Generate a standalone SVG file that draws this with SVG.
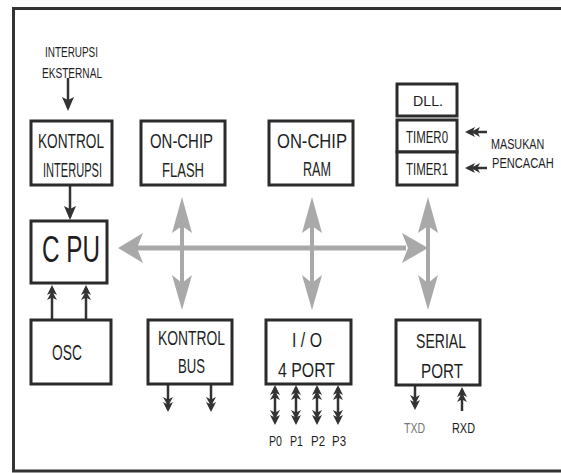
<svg xmlns="http://www.w3.org/2000/svg" width="561" height="473" viewBox="0 0 561 473">
<style>
.box{fill:#fff;stroke:#2b2b2b;stroke-width:3}
.t{font-family:"Liberation Sans","DejaVu Sans",sans-serif;fill:#1e1e1e;text-anchor:start}
.dk{stroke:#333;stroke-width:2.5;fill:none}
.gl{stroke:#a9a9a9;fill:none}
.gh{fill:#a9a9a9}
</style>
<defs>
<marker id="dh" viewBox="0 -6 15 12" refX="12" refY="0" markerWidth="15" markerHeight="12" markerUnits="userSpaceOnUse" orient="auto-start-reverse">
<path d="M15,0 L5,-5 L7.5,0 L5,5 Z M9,0 L0,-5 L2.5,0 L0,5 Z" fill="#333"/>
</marker>
<marker id="sh" viewBox="0 -6 14 12" refX="11" refY="0" markerWidth="14" markerHeight="12" markerUnits="userSpaceOnUse" orient="auto-start-reverse">
<path d="M14,0 L0,-6 L3,0 L0,6 Z" fill="#333"/>
</marker>
</defs>
<rect width="561" height="473" fill="#fff"/>
<path d="M580,8.5 L13.5,8.5 L13.5,471 L580,471" fill="none" stroke="#333" stroke-width="3"/>

<g id="connectors">
<g id="bus">
<line class="gl" x1="136" y1="248" x2="406" y2="248" stroke-width="5"/>
<line class="gl" x1="182" y1="226" x2="182" y2="284" stroke-width="4"/>
<line class="gl" x1="312" y1="226" x2="312" y2="284" stroke-width="4"/>
<line class="gl" x1="428" y1="226" x2="428" y2="284" stroke-width="4"/>
<path class="gh" d="M118,248 L143,233 L137,248 L143,263 Z"/>
<path class="gh" d="M428,248 L402,233 L408,248 L402,263 Z"/>
<path class="gh" d="M182,197 L192,233 L182,226 L172,233 Z"/>
<path class="gh" d="M182,310 L192,275 L182,283 L172,275 Z"/>
<path class="gh" d="M312,197 L322,233 L312,226 L302,233 Z"/>
<path class="gh" d="M312,310 L322,275 L312,283 L302,275 Z"/>
<path class="gh" d="M428,197 L438,233 L428,226 L418,233 Z"/>
<path class="gh" d="M428,310 L438,275 L428,283 L418,275 Z"/>
</g>
<line class="dk" x1="68" y1="78" x2="68" y2="108" marker-end="url(#sh)"/>
<line class="dk" x1="70" y1="186" x2="70" y2="217" marker-end="url(#sh)"/>
<line class="dk" x1="52" y1="319" x2="52" y2="288" marker-end="url(#dh)"/>
<line class="dk" x1="86" y1="319" x2="86" y2="288" marker-end="url(#dh)"/>
<line class="dk" x1="168" y1="385" x2="168" y2="409" marker-end="url(#dh)"/>
<line class="dk" x1="211" y1="385" x2="211" y2="409" marker-end="url(#dh)"/>
<line class="dk" x1="275" y1="388" x2="275" y2="422" marker-start="url(#dh)" marker-end="url(#dh)"/>
<line class="dk" x1="296" y1="388" x2="296" y2="422" marker-start="url(#dh)" marker-end="url(#dh)"/>
<line class="dk" x1="317" y1="388" x2="317" y2="422" marker-start="url(#dh)" marker-end="url(#dh)"/>
<line class="dk" x1="338" y1="388" x2="338" y2="422" marker-start="url(#dh)" marker-end="url(#dh)"/>
<line class="dk" x1="415" y1="386" x2="415" y2="407" marker-end="url(#dh)"/>
<line class="dk" x1="462" y1="411" x2="462" y2="390" marker-end="url(#dh)"/>
<line class="dk" x1="487" y1="132" x2="468" y2="132" marker-end="url(#dh)"/>
<line class="dk" x1="487" y1="168" x2="468" y2="168" marker-end="url(#dh)"/>
</g>

<g id="interupsi-eksternal">
<text class="t" x="45" y="57" font-size="15" textLength="53" lengthAdjust="spacingAndGlyphs">INTERUPSI</text>
<text class="t" x="42" y="78" font-size="15" textLength="60" lengthAdjust="spacingAndGlyphs">EKSTERNAL</text>
</g>

<g id="kontrol-interupsi">
<rect class="box" x="31" y="121" width="81" height="64"/>
<text class="t" x="38" y="148" font-size="21" textLength="66" lengthAdjust="spacingAndGlyphs">KONTROL</text>
<text class="t" x="43" y="177" font-size="21" textLength="59" lengthAdjust="spacingAndGlyphs">INTERUPSI</text>
</g>

<g id="onchip-flash">
<rect class="box" x="141" y="121" width="84" height="64"/>
<text class="t" x="150" y="148" font-size="21" textLength="63" lengthAdjust="spacingAndGlyphs">ON-CHIP</text>
<text class="t" x="162" y="177" font-size="21" textLength="42" lengthAdjust="spacingAndGlyphs">FLASH</text>
</g>

<g id="onchip-ram">
<rect class="box" x="269" y="121" width="84" height="64"/>
<text class="t" x="277" y="148" font-size="21" textLength="70" lengthAdjust="spacingAndGlyphs">ON-CHIP</text>
<text class="t" x="303" y="176" font-size="21" textLength="28" lengthAdjust="spacingAndGlyphs">RAM</text>
</g>

<g id="dll">
<rect class="box" x="397" y="84" width="60" height="32"/>
<text class="t" x="413" y="106" font-size="15" textLength="30" lengthAdjust="spacingAndGlyphs">DLL.</text>
</g>
<g id="timer0">
<rect class="box" x="397" y="120" width="60" height="32"/>
<text class="t" x="406" y="143" font-size="16" textLength="42" lengthAdjust="spacingAndGlyphs">TIMER0</text>
</g>
<g id="timer1">
<rect class="box" x="397" y="152" width="60" height="33"/>
<text class="t" x="406" y="175" font-size="16" textLength="42" lengthAdjust="spacingAndGlyphs">TIMER1</text>
</g>
<g id="masukan-pencacah">
<text class="t" transform="translate(491,149) scale(0.72,1)" font-size="15">MASUKAN</text>
<text class="t" transform="translate(492,168) scale(0.74,1)" font-size="15">PENCACAH</text>
</g>

<g id="cpu">
<rect class="box" x="31" y="221" width="76" height="62"/>
<text class="t" x="42" y="262" font-size="36" textLength="58" lengthAdjust="spacingAndGlyphs">C PU</text>
</g>

<g id="osc">
<rect class="box" x="31" y="320" width="80" height="64"/>
<text class="t" x="52" y="360" font-size="22" textLength="30" lengthAdjust="spacingAndGlyphs">OSC</text>
</g>

<g id="kontrol-bus">
<rect class="box" x="148" y="320" width="84" height="64"/>
<text class="t" x="158" y="345" font-size="21" textLength="67" lengthAdjust="spacingAndGlyphs">KONTROL</text>
<text class="t" x="178" y="373" font-size="21" textLength="27" lengthAdjust="spacingAndGlyphs">BUS</text>
</g>

<g id="io-port">
<rect class="box" x="266" y="320" width="85" height="64"/>
<text class="t" x="292" y="347" font-size="21" textLength="30" lengthAdjust="spacingAndGlyphs">I / O</text>
<text class="t" x="278" y="377" font-size="21" textLength="57" lengthAdjust="spacingAndGlyphs">4  PORT</text>
<text class="t" x="269" y="446" font-size="15" textLength="13" lengthAdjust="spacingAndGlyphs">P0</text>
<text class="t" x="290" y="446" font-size="15" textLength="13" lengthAdjust="spacingAndGlyphs">P1</text>
<text class="t" x="311" y="446" font-size="15" textLength="14" lengthAdjust="spacingAndGlyphs">P2</text>
<text class="t" x="332" y="446" font-size="15" textLength="14" lengthAdjust="spacingAndGlyphs">P3</text>
</g>

<g id="serial-port">
<rect class="box" x="396" y="320" width="84" height="65"/>
<text class="t" x="416" y="348" font-size="21" textLength="50" lengthAdjust="spacingAndGlyphs">SERIAL</text>
<text class="t" x="421" y="378" font-size="21" textLength="42" lengthAdjust="spacingAndGlyphs">PORT</text>
<text class="t" x="404" y="433" font-size="14" textLength="21" lengthAdjust="spacingAndGlyphs" style="fill:#777">TXD</text>
<text class="t" x="452" y="433" font-size="14" textLength="23" lengthAdjust="spacingAndGlyphs">RXD</text>
</g>
</svg>
